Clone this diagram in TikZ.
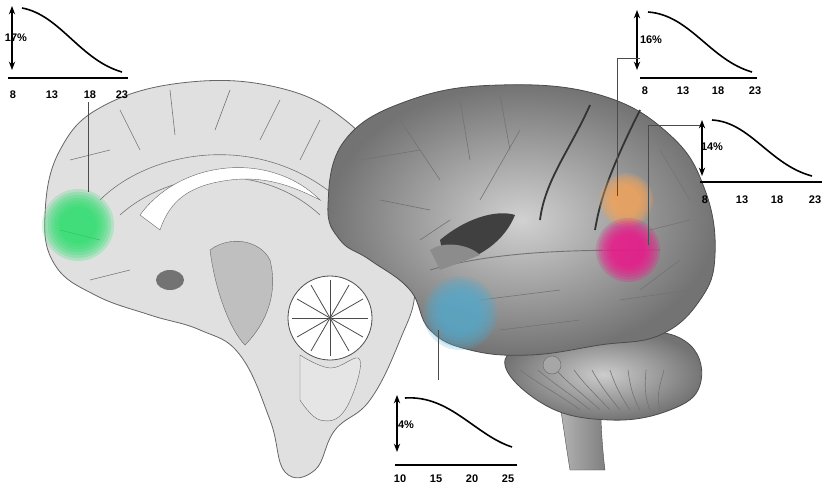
\documentclass[tikz,border=0pt]{standalone}
\usepackage{fontspec}
\setmainfont{Liberation Sans}
\usetikzlibrary{arrows.meta}
\definecolor{gblob}{HTML}{22DD66}
\definecolor{oblob}{HTML}{F5A55A}
\definecolor{mblob}{HTML}{F0118A}
\definecolor{bblob}{HTML}{55AACC}
\newcommand{\softblob}[3]{\foreach \k in {1.0,0.92,...,0.5}{\fill[#1,opacity=0.22] #2 circle ({#3*\k});}}
\begin{document}
\begin{tikzpicture}[x=1pt,y=-1pt,
 lbl/.style={font=\fontsize{11}{12}\selectfont\bfseries,inner sep=1pt},
 ax/.style={line width=1.6pt},
 crv/.style={line width=1.6pt},
 arr/.style={line width=1.2pt,{Stealth}-{Stealth}},
 lead/.style={line width=0.5pt,black!70},
 sulc/.style={line width=0.6pt,black!55}]
\useasboundingbox (0,0) rectangle (827,492);
% ---------- left medial brain ----------
\fill[black!12,draw=black!60,line width=0.8pt] plot[smooth cycle,tension=0.7] coordinates{
(45,215)(60,150)(105,105)(190,82)(280,88)(345,120)(385,170)(405,230)(415,290)(400,340)(370,400)(335,430)(315,470)(285,472)(270,420)(240,355)(200,330)(150,315)(95,295)(55,265)};
\foreach \xa/\ya/\xb/\yb in {70/160/110/150,120/110/140/150,170/90/175/135,230/90/215/130,280/100/260/140,320/120/300/160,60/230/100/240,90/280/130/270,350/170/330/200}
  \draw[sulc] (\xa,\ya) -- (\xb,\yb);
\draw[sulc] (100,200) .. controls (150,150) and (260,130) .. (340,200);
\draw[sulc] (120,215) .. controls (170,170) and (260,160) .. (320,215);
\fill[white,draw=black!60] (140,215) .. controls (180,160) and (270,150) .. (320,200)
 .. controls (300,190) and (270,175) .. (230,180) .. controls (190,185) and (170,200) .. (160,230) -- cycle;
\fill[black!55] (170,280) ellipse (14 and 10);
\fill[black!25,draw=black!60] (210,250) .. controls (230,235) and (260,240) .. (270,260) .. controls (280,300) and (260,330) .. (245,345) .. controls (230,330) and (215,290) .. (210,250) -- cycle;
\fill[white,draw=black!70,line width=0.8pt] (330,318) circle (42);
\foreach \a in {0,30,...,330} \draw[black!70,line width=0.8pt] (330,318) -- ++(\a:38);
\fill[black!10,draw=black!60] plot[smooth,tension=0.7] coordinates{(300,355)(330,368)(360,360)(345,410)(320,420)(300,400)} -- cycle;
% ---------- right lateral brain ----------
\shade[left color=black!25,right color=black!50,draw=black!70] (550,345) .. controls (560,400) and (565,440) .. (570,470) -- (605,470) .. controls (600,430) and (600,390) .. (600,345) -- cycle;
\shade[inner color=black!20,outer color=black!55,draw=black!70,line width=0.8pt] plot[smooth cycle,tension=0.7] coordinates{(505,360)(560,335)(640,330)(690,345)(700,385)(670,410)(610,420)(545,405)};
\foreach \i in {0,...,8} \draw[sulc] (520+\i*18,370) .. controls (540+\i*15,385) and (560+\i*12,395) .. (580+\i*10,410);
\shade[inner color=black!18,outer color=black!55,draw=black!70,line width=0.8pt] plot[smooth cycle,tension=0.7] coordinates{
(328,205)(345,140)(410,100)(500,85)(600,95)(670,135)(705,190)(715,255)(700,300)(660,335)(600,345)(530,355)(470,350)(430,330)(410,290)(370,260)(340,240)};
\fill[black!35,draw=black!60] (552,365) circle (9);
\draw[sulc,line width=0.9pt] (430,270) .. controls (500,250) and (580,250) .. (660,250);
\draw[black!80,line width=1.8pt] (590,105) .. controls (570,150) and (545,180) .. (540,220);
\draw[black!80,line width=1.8pt] (640,110) .. controls (610,170) and (600,200) .. (595,230);
\foreach \xa/\ya/\xb/\yb in {360/160/420/150,400/120/440/180,460/100/470/160,500/95/510/150,520/130/480/200,380/200/430/210,450/220/420/240,660/150/690/200,680/260/640/290,480/300/560/290,500/330/580/320,620/300/690/290,690/220/650/230}
  \draw[sulc] (\xa,\ya) -- (\xb,\yb);
\fill[black!75] (440,240) .. controls (470,215) and (500,210) .. (515,215) .. controls (505,240) and (480,260) .. (445,265) -- cycle;
\fill[black!45] (430,250) .. controls (445,240) and (470,245) .. (480,255) -- (440,270) -- cycle;
% ---------- blobs ----------
\softblob{gblob}{(78,225)}{36}
\softblob{oblob}{(626,200)}{27}
\softblob{mblob}{(628,250)}{32}
\softblob{bblob}{(460,313)}{37}
% ---------- charts ----------
\draw[arr] (12,6) -- (12,70);
\node[lbl] (tlp) at (16,38) {17\%};
\draw[ax] (8,78) -- (128,78);
\draw[crv] (22,8) .. controls (60,15) and (80,60) .. (122,72);
\foreach \x/\t in {13/8,52/13,90/18,122/23} \node[lbl] at (\x,95) {\t};
\coordinate (g1) at (88,102); \coordinate (g2) at (88,192);
\draw[lead] (g1) -- (g2);
\draw[arr] (637,10) -- (637,70);
\node[lbl] (trp) at (651,40) {16\%};
\draw[ax] (640,78) -- (757,78);
\draw[crv] (648,12) .. controls (690,15) and (710,60) .. (752,72);
\foreach \x/\t in {645/8,683/13,718/18,755/23} \node[lbl] at (\x,91) {\t};
\coordinate (o1) at (640,58); \coordinate (o2) at (617,58); \coordinate (o3) at (617,196);
\draw[lead] (o1) -- (o2) -- (o3);
\draw[arr] (702,120) -- (702,176);
\node[lbl] (tr2p) at (712,147) {14\%};
\draw[ax] (700,182) -- (822,182);
\draw[crv] (712,120) .. controls (750,122) and (770,165) .. (812,176);
\foreach \x/\t in {705/8,742/13,777/18,815/23} \node[lbl] at (\x,200) {\t};
\coordinate (m1) at (700,125); \coordinate (m2) at (648,125); \coordinate (m3) at (648,245);
\draw[lead] (m1) -- (m2) -- (m3);
\draw[arr] (397,395) -- (397,452);
\node[lbl] (bp) at (406,425) {4\%};
\draw[ax] (395,465) -- (517,465);
\draw[crv] (405,398) .. controls (450,395) and (475,435) .. (512,447);
\foreach \x/\t in {400/10,436/15,472/20,508/25} \node[lbl] at (\x,479) {\t};
\coordinate (c1) at (438,330); \coordinate (c2) at (438,380);
\draw[lead] (c1) -- (c2);
\end{tikzpicture}
\end{document}
